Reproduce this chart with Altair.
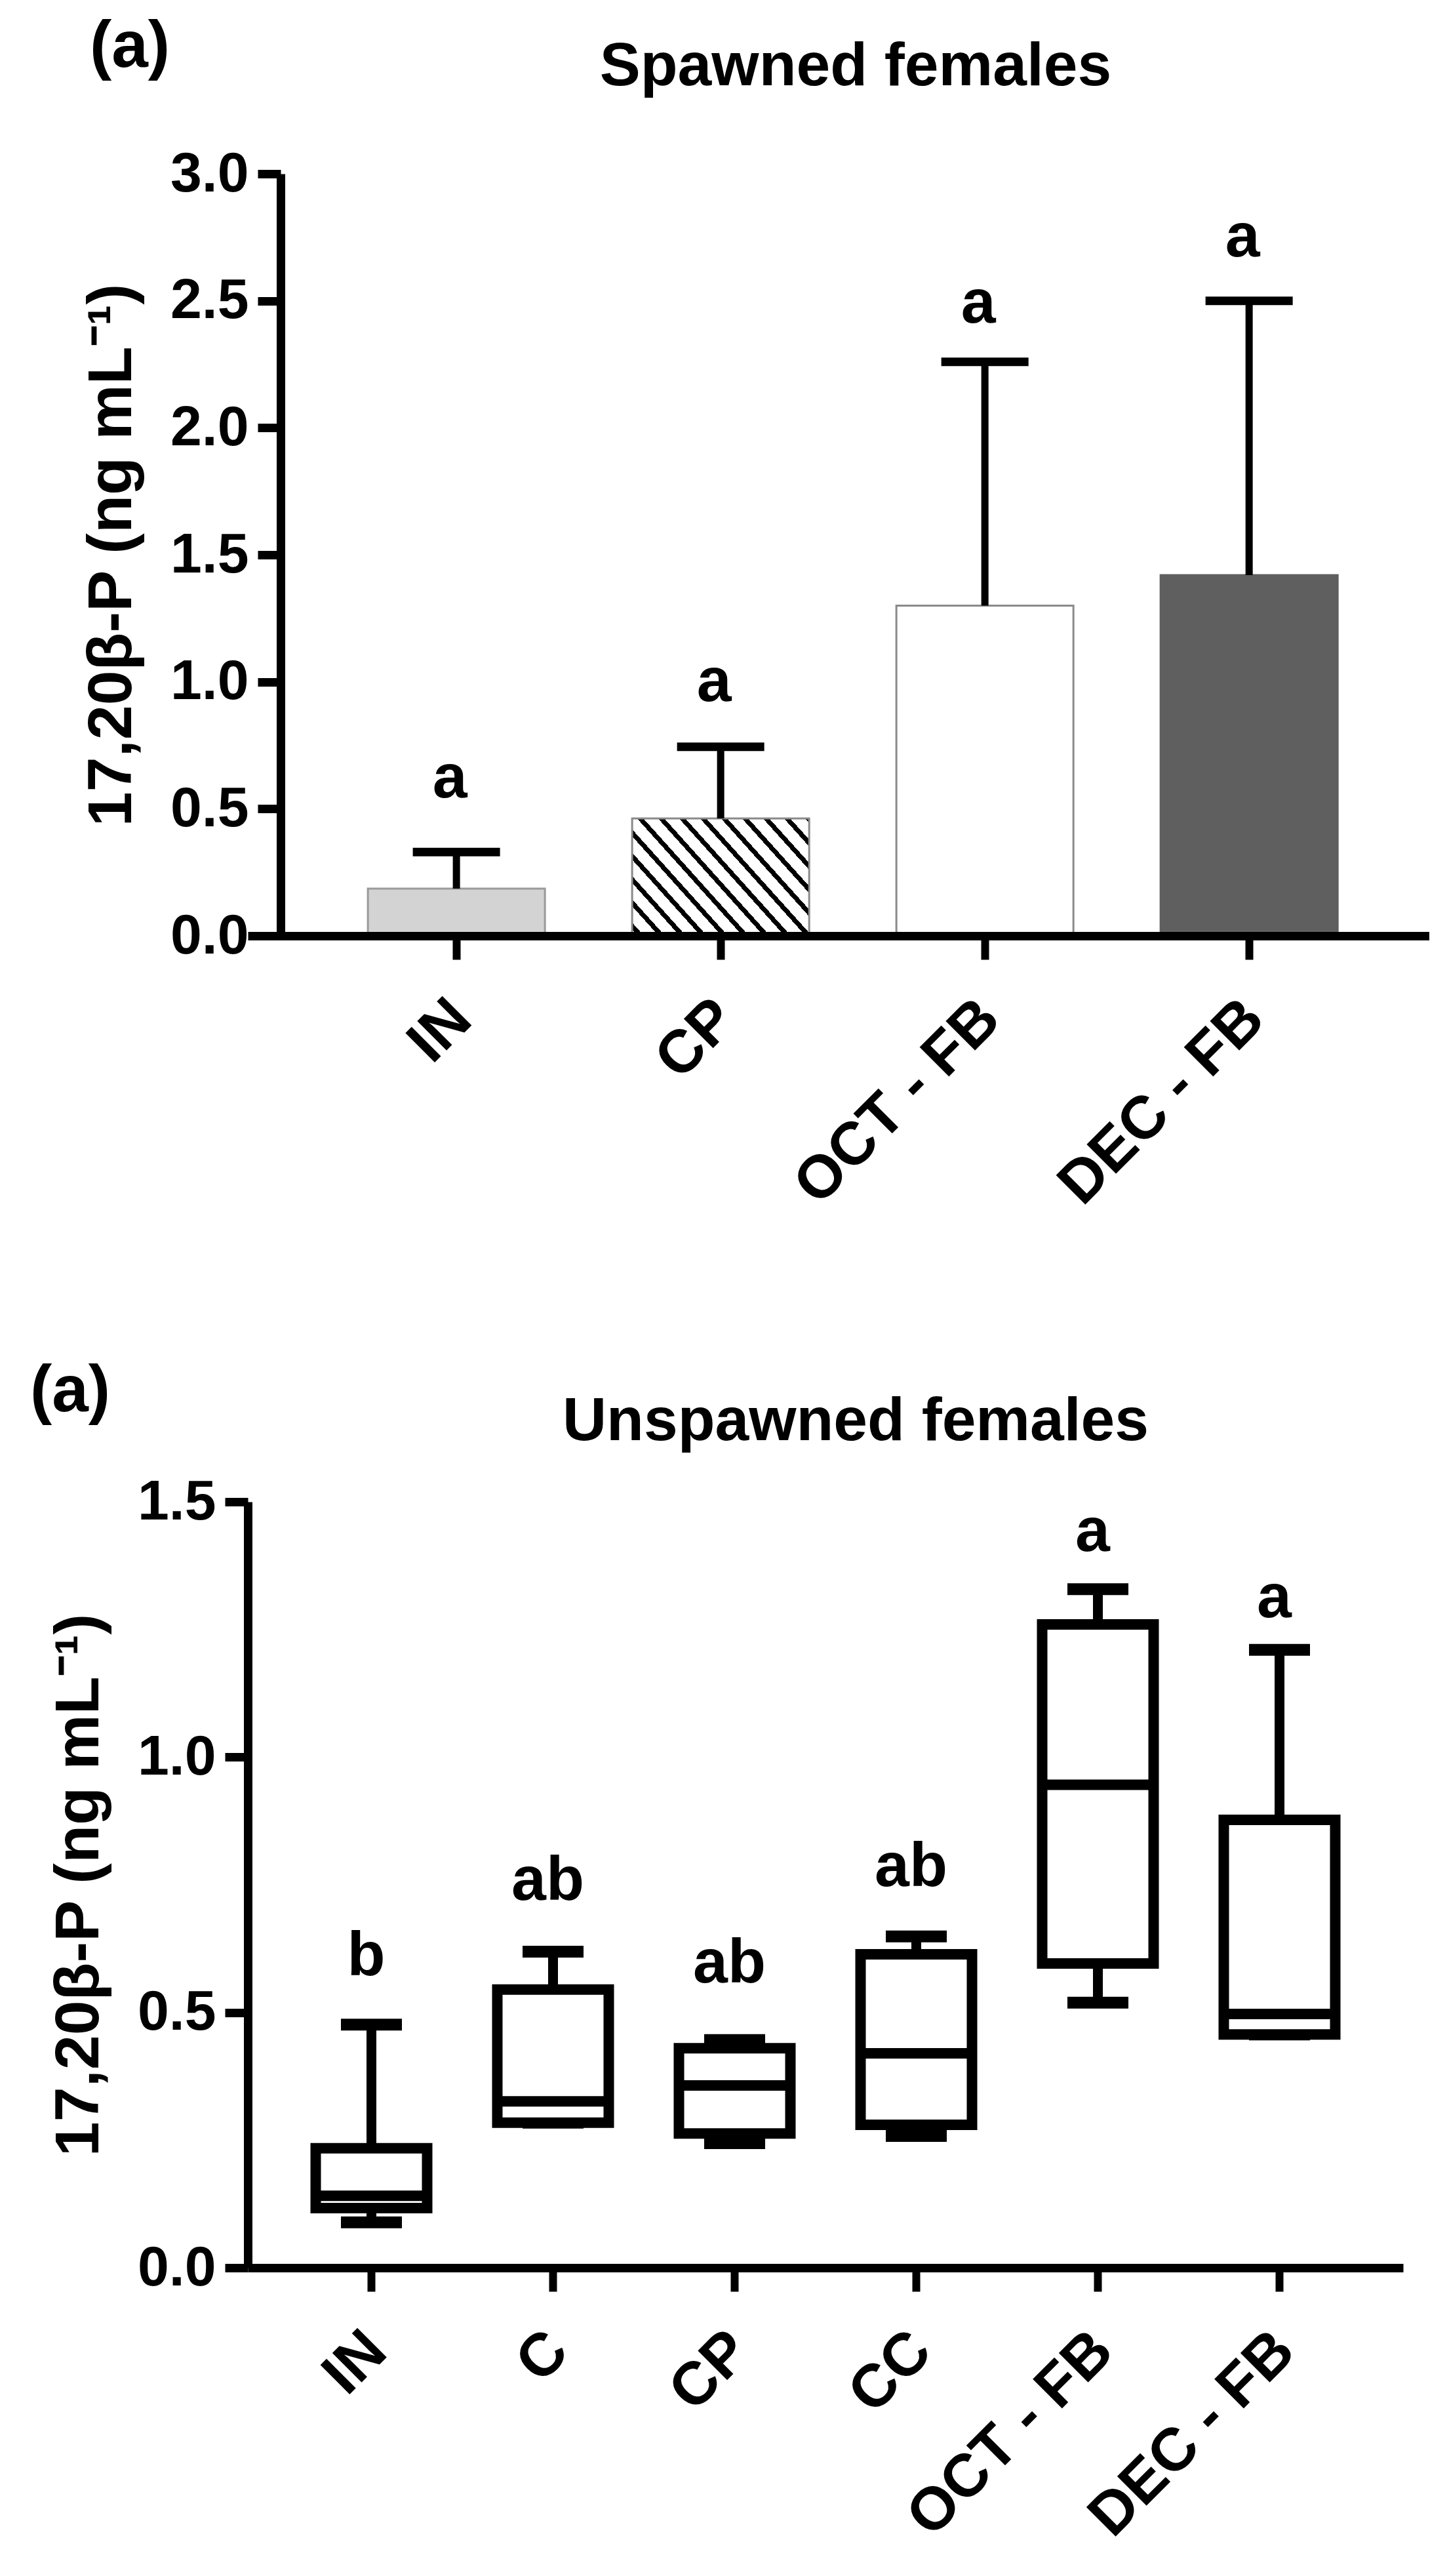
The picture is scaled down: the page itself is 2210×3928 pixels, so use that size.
import math
import altair as alt
import pandas as pd

# ---------------- data ----------------
# Spawned females: bar = mean, whisker = upper error
sp_groups = ["IN", "CP", "OCT - FB", "DEC - FB"]
sp_mean = [0.186, 0.462, 1.30, 1.42]
sp_upper = [0.33, 0.744, 2.26, 2.50]
sp_letters = ["a", "a", "a", "a"]
sp_letter_y = [0.62, 1.00, 2.49, 2.75]
sp_ticks = [0.0, 0.5, 1.0, 1.5, 2.0, 2.5, 3.0]

# Unspawned females: box plots
un_groups = ["IN", "C", "CP", "CC", "OCT - FB", "DEC - FB"]
un_min = [0.089, 0.284, 0.244, 0.258, 0.519, 0.457]
un_q1 = [0.117, 0.284, 0.263, 0.280, 0.596, 0.457]
un_median = [0.141, 0.326, 0.357, 0.420, 0.946, 0.497]
un_q3 = [0.234, 0.545, 0.430, 0.614, 1.260, 0.877]
un_max = [0.476, 0.619, 0.446, 0.649, 1.329, 1.210]
un_letters = ["b", "ab", "ab", "ab", "a", "a"]
un_letter_y = [0.61, 0.758, 0.596, 0.785, 1.441, 1.311]
un_ticks = [0.0, 0.5, 1.0, 1.5]

panel_tags = ["(a)", "(a)"]
panel_titles = ["Spawned females", "Unspawned females"]
y_title = "17,20\u03b2-P (ng mL\u207b\u00b9)"

# ---------------- style ----------------
FONT = "Liberation Sans"
W1, H1 = 1802, 1162
W2, H2 = 1762, 1168
PI1, PO1, AL1 = 0.33, 0.4007, 0.567
PI2, PO2 = 0.35, 0.3555
bar_fill = ["#d3d3d3", "#ffffff", "#ffffff", "#5f5f5f"]
bar_stroke = ["#9a9a9a", "#8a8a8a", "#8a8a8a", "#5f5f5f"]


def y_axis(values, offset=0):
    kw = dict(values=values, format=".1f", title=y_title, grid=False,
              domainColor="black", domainWidth=13, tickColor="black",
              tickWidth=13, tickSize=35, labelFont=FONT, labelFontSize=86,
              labelFontWeight="bold", labelColor="black", labelPadding=14,
              titleFont=FONT, titleFontSize=95, titleFontWeight="bold",
              titleColor="black", titlePadding=40, zindex=1)
    if offset:
        kw["offset"] = offset
    return alt.Axis(**kw)


def x_axis():
    return alt.Axis(title=None, labelAngle=-45, labelAlign="right",
                    labelBaseline="top", labelFont=FONT, labelFontSize=92,
                    labelFontWeight="bold", labelColor="black",
                    labelPadding=44, labelOffset=-24, labelLimit=2000,
                    domainColor="black", domainWidth=13, tickColor="black",
                    tickWidth=12, tickSize=36, zindex=1, labelOverlap=False)


# ---------------- hatch gradient for the CP bar ----------------
step1 = W1 / (len(sp_groups) - PI1 + 2 * PO1)
bw = step1 * (1 - PI1)
bh = sp_mean[1] / 3.0 * H1
theta = math.radians(48)
k = (math.cos(theta) / bw) / (math.sin(theta) / bh)
s = (1 + k) / (1 + k * k)
x2g, y2g = s, 1 - k * s
dt_px = 1.0 / (bw * s * (1 + k * k))
period = 32 * dt_px
frac = 0.3
stops = [alt.GradientStop(color="white", offset=0)]
t = 0.02
while t < 1:
    a = t
    b = min(t + frac * period, 1.0)
    stops += [alt.GradientStop(color="white", offset=a),
              alt.GradientStop(color="black", offset=a),
              alt.GradientStop(color="black", offset=b),
              alt.GradientStop(color="white", offset=b)]
    t += period
stops.append(alt.GradientStop(color="white", offset=1))
hatch = alt.LinearGradient(gradient="linear", stops=stops,
                           x1=0, y1=1, x2=x2g, y2=y2g)

# ---------------- top panel ----------------
sp_df = pd.DataFrame({"group": sp_groups, "mean": sp_mean, "upper": sp_upper,
                      "letter": sp_letters, "ly": sp_letter_y})
xs1 = alt.Scale(domain=sp_groups, paddingInner=PI1, paddingOuter=PO1, align=AL1)
ys1 = alt.Scale(domain=[0, 3], nice=False, zero=True)
X1 = alt.X("group:N", sort=sp_groups, scale=xs1, axis=x_axis())
YA1 = y_axis(sp_ticks, offset=-50)

base1 = alt.Chart(sp_df)
bars = base1.transform_filter(alt.datum.group != "CP").mark_bar(strokeWidth=3).encode(
    x=X1,
    y=alt.Y("mean:Q", scale=ys1, axis=YA1),
    fill=alt.Fill("group:N", scale=alt.Scale(domain=sp_groups, range=bar_fill), legend=None),
    stroke=alt.Stroke("group:N", scale=alt.Scale(domain=sp_groups, range=bar_stroke), legend=None),
)
bars_cp = base1.transform_filter(alt.datum.group == "CP").mark_bar(
    fill=hatch, stroke="#8a8a8a", strokeWidth=3).encode(
    x=X1, y=alt.Y("mean:Q", scale=ys1, axis=YA1))
err = base1.mark_rule(color="black", strokeWidth=11).encode(
    x=X1, y=alt.Y("mean:Q", scale=ys1, axis=YA1), y2="upper:Q")
cap = base1.mark_tick(color="black", size=133, thickness=13, opacity=1).encode(
    x=X1, y=alt.Y("upper:Q", scale=ys1, axis=YA1))
let1 = base1.mark_text(font=FONT, fontSize=95, fontWeight="bold", color="black",
                       baseline="middle", dx=-10).encode(
    x=X1, y=alt.Y("ly:Q", scale=ys1, axis=YA1), text="letter:N")
tag1 = alt.Chart(pd.DataFrame({"t": [panel_tags[0]]})).mark_text(
    x=-180, y=-193, font=FONT, fontSize=100, fontWeight="bold", color="black",
    align="center", baseline="middle").encode(text="t:N")
ttl1 = alt.Chart(pd.DataFrame({"t": [panel_titles[0]]})).mark_text(
    x=927, y=-163, font=FONT, fontSize=93, fontWeight="bold", color="black",
    align="center", baseline="middle").encode(text="t:N")
top = alt.layer(bars, bars_cp, err, cap, let1, tag1, ttl1).properties(width=W1, height=H1)

# ---------------- bottom panel ----------------
un_df = pd.DataFrame({"group": un_groups, "mn": un_min, "q1": un_q1, "med": un_median,
                      "q3": un_q3, "mx": un_max, "letter": un_letters, "ly": un_letter_y})
xs2 = alt.Scale(domain=un_groups, paddingInner=PI2, paddingOuter=PO2)
ys2 = alt.Scale(domain=[0, 1.5], nice=False, zero=True)
X2 = alt.X("group:N", sort=un_groups, scale=xs2, axis=x_axis())
YA2 = y_axis(un_ticks)


def Y2(f):
    return alt.Y(f, scale=ys2, axis=YA2)


base2 = alt.Chart(un_df)
wh_hi = base2.mark_rule(color="black", strokeWidth=15).encode(x=X2, y=Y2("q3:Q"), y2="mx:Q")
wh_lo = base2.mark_rule(color="black", strokeWidth=15).encode(x=X2, y=Y2("mn:Q"), y2="q1:Q")
cap_hi = base2.mark_tick(color="black", size=93, thickness=18, opacity=1).encode(x=X2, y=Y2("mx:Q"))
cap_lo = base2.mark_tick(color="black", size=93, thickness=18, opacity=1).encode(x=X2, y=Y2("mn:Q"))
box = base2.mark_bar(size=170, fill="white", stroke="black", strokeWidth=16).encode(
    x=X2, y=Y2("q1:Q"), y2="q3:Q")
med = base2.mark_tick(color="black", size=170, thickness=16, opacity=1).encode(x=X2, y=Y2("med:Q"))
let2 = base2.mark_text(font=FONT, fontSize=95, fontWeight="bold", color="black",
                       baseline="middle", dx=-8).encode(
    x=X2, y=Y2("ly:Q"), text="letter:N")
tag2 = alt.Chart(pd.DataFrame({"t": [panel_tags[1]]})).mark_text(
    x=-271, y=-168, font=FONT, fontSize=100, fontWeight="bold", color="black",
    align="center", baseline="middle").encode(text="t:N")
ttl2 = alt.Chart(pd.DataFrame({"t": [panel_titles[1]]})).mark_text(
    x=927, y=-122, font=FONT, fontSize=93, fontWeight="bold", color="black",
    align="center", baseline="middle").encode(text="t:N")
bottom = alt.layer(wh_hi, wh_lo, cap_hi, cap_lo, box, med, let2, tag2, ttl2).properties(
    width=W2, height=H2)

chart = alt.vconcat(top, bottom, spacing=863, bounds="flush").configure_view(
    stroke=None).properties(
    padding={"left": 45, "top": 22, "right": 0, "bottom": 0}, background="white")

chart.save("out.html", embed_options={"renderer": "svg", "actions": False})
